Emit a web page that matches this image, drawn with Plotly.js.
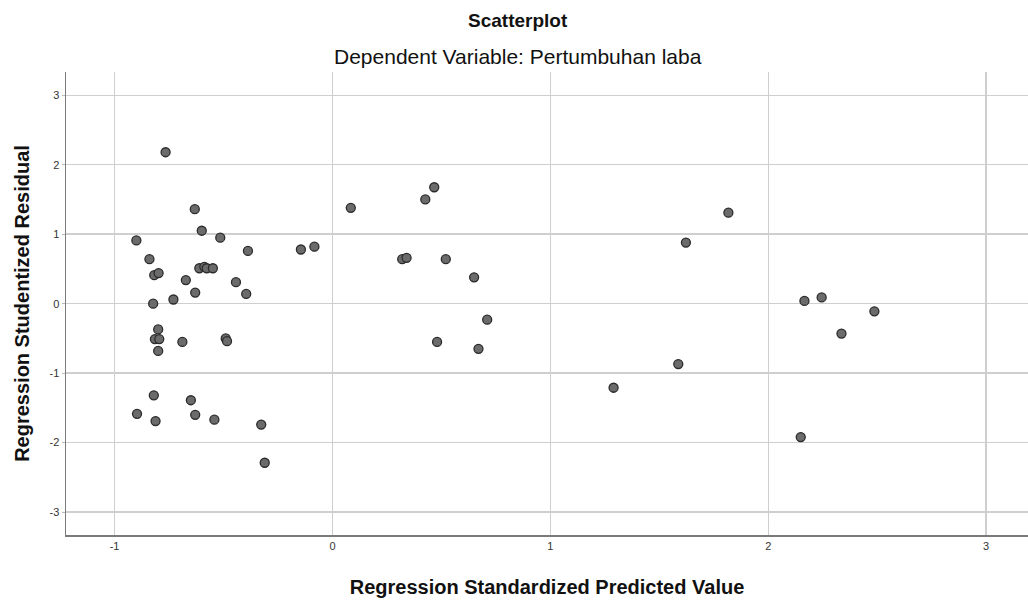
<!DOCTYPE html>
<html>
<head>
<meta charset="utf-8">
<script src="https://cdn.plot.ly/plotly-3.0.1.min.js"></script>
<style>html,body{margin:0;padding:0;background:#fff;}#chart{width:1028px;height:601px;}</style>
</head>
<body>
<div id="chart"></div>
<script>
// Regression Standardized Predicted Value
const predicted = [
  -0.766, -0.632, -0.600, -0.515, -0.900, -0.388, -0.840,
  -0.611, -0.588, -0.577, -0.549, -0.818, -0.798, -0.673,
  -0.443, -0.630, -0.396, -0.730, -0.823, -0.800, -0.815,
  -0.795, -0.689, -0.490, -0.484, -0.800, -0.820, -0.650,
  -0.897, -0.812, -0.630, -0.542, -0.327, -0.311,
  -0.145, -0.083, 0.084, 0.426, 0.467, 0.320, 0.340,
  0.520, 0.650, 0.710, 0.480, 0.670,
  1.290, 1.587, 1.622, 1.817, 2.149, 2.166, 2.245, 2.336, 2.487
];
// Regression Studentized Residual
const residual = [
  2.18, 1.36, 1.05, 0.95, 0.91, 0.76, 0.64,
  0.51, 0.53, 0.51, 0.51, 0.41, 0.44, 0.34,
  0.31, 0.16, 0.14, 0.06, 0.00, -0.37, -0.51,
  -0.51, -0.55, -0.50, -0.54, -0.68, -1.32, -1.39,
  -1.585, -1.69, -1.60, -1.67, -1.74, -2.29,
  0.78, 0.82, 1.38, 1.50, 1.676, 0.64, 0.66,
  0.64, 0.38, -0.23, -0.55, -0.65,
  -1.21, -0.87, 0.88, 1.31, -1.92, 0.04, 0.09, -0.43, -0.11
];
const xTicks = [-1, 0, 1, 2, 3];
const yTicks = [-3, -2, -1, 0, 1, 2, 3];
const chartTitle = "Scatterplot";
const chartSubtitle = "Dependent Variable: Pertumbuhan laba";
const xTitle = "Regression Standardized Predicted Value";
const yTitle = "Regression Studentized Residual";

const trace = {
  x: predicted, y: residual, type: 'scatter', mode: 'markers',
  marker: {size: 9, color: '#6b6b6b', line: {color: '#2b2b2b', width: 1.3}},
  hoverinfo: 'x+y'
};

const fam = 'Liberation Sans, Arial, sans-serif';
const layout = {
  width: 1028, height: 601,
  margin: {l: 66, r: 0, t: 72, b: 66},
  paper_bgcolor: '#fff', plot_bgcolor: '#fff',
  font: {family: fam, color: '#222'},
  showlegend: false,
  xaxis: {
    range: [-1.223, 3.192], tickvals: xTicks, ticktext: xTicks.map(String),
    showgrid: true, gridcolor: '#cfcfcf', gridwidth: 1.5,
    zeroline: false, showline: true, linecolor: '#7a7a7a', linewidth: 1.5,
    ticks: '', tickfont: {size: 11, color: '#333'},
    title: {text: xTitle, font: {size: 20, color: '#111', family: fam, weight: 'bold'}, standoff: 29}
  },
  yaxis: {
    range: [-3.33, 3.335], tickvals: yTicks, ticktext: yTicks.map(String),
    showgrid: true, gridcolor: '#cfcfcf', gridwidth: 1.5,
    zeroline: false, showline: true, linecolor: '#7a7a7a', linewidth: 1.5,
    ticks: 'outside', ticklen: 3, tickcolor: '#bbb', tickfont: {size: 11, color: '#333'},
    title: {text: yTitle, font: {size: 20, color: '#111', family: fam, weight: 'bold'}, standoff: 14}
  },
  annotations: [
    {text: chartTitle, xref: 'paper', yref: 'paper', x: 0.47, y: 1.111, xanchor: 'center', yanchor: 'middle',
     showarrow: false, font: {size: 19, color: '#111', family: fam, weight: 'bold'}},
    {text: chartSubtitle, xref: 'paper', yref: 'paper', x: 0.47, y: 1.034, xanchor: 'center', yanchor: 'middle',
     showarrow: false, font: {size: 21, color: '#111', family: fam}}
  ]
};

Plotly.newPlot('chart', [trace], layout, {displayModeBar: false, staticPlot: true});
</script>
</body>
</html>
